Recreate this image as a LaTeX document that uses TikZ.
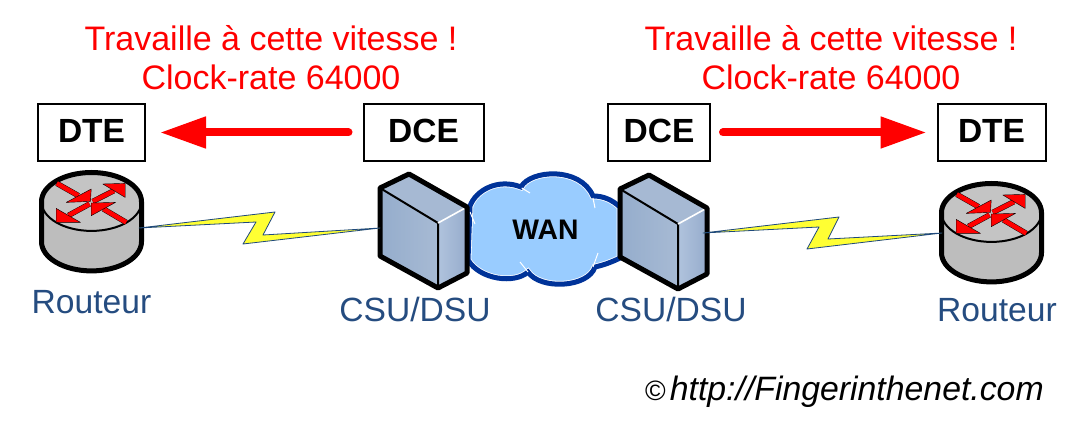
\documentclass[tikz,border=0pt]{standalone}
\usepackage{fontspec}
\setmainfont{Liberation Sans}
\usetikzlibrary{arrows.meta}
\definecolor{labelblue}{HTML}{254C80}
\definecolor{cloudblue}{HTML}{99CCFF}
\definecolor{cloudedge}{HTML}{003399}
\definecolor{boltedge}{HTML}{1F497D}
\definecolor{boltfill}{HTML}{FFFF33}
\definecolor{caseleft}{RGB}{149,173,204}
\definecolor{caseright}{RGB}{167,186,212}
\definecolor{casetop}{RGB}{166,185,211}
\definecolor{sideleft}{RGB}{176,195,221}
\definecolor{sideright}{RGB}{150,172,204}
\tikzset{
	speedlabel/.style={anchor=base,text=red,font=\fontsize{34}{38}\selectfont},
	devlabel/.style={anchor=base,text=labelblue,font=\fontsize{33.6}{38}\selectfont},
	modebox/.style={draw=black,line width=2pt,rectangle,outer sep=0pt,inner sep=0pt,minimum height=57pt,text height=24pt,text depth=4pt,font=\fontsize{33.5}{38}\selectfont\bfseries},
	rateline/.style={red,line width=8pt,line cap=round,-{Triangle[length=46pt,width=30pt]}},
	bolt/.style={draw=boltedge,fill=boltfill,line width=0.8pt,line join=round},
	router/.pic={
		\shade [left color=black!26,middle color=black!17,right color=black!26] (-50,0) -- (-50,-40) arc [start angle=180,end angle=360,x radius=50,y radius=29.2] -- (50,0) -- cycle;
		\fill [black!23] (0,0) ellipse [x radius=50,y radius=29.2];
		\draw [black,line width=2pt] (-50,0) arc [start angle=180,end angle=360,x radius=50,y radius=29.2];
		\draw [black,line width=5pt,line join=round] (-50,-40) -- (-50,0) arc [start angle=180,end angle=0,x radius=50,y radius=29.2] -- (50,-40) arc [start angle=0,end angle=-180,x radius=50,y radius=29.2];
		\foreach \tx/\ty/\mx/\my/\hx/\hy/\ax/\ay/\bx/\by in {
			-34.7/18.3/-13/6/-1/0.3/-0.3/12.7/-25.3/-0.7,
			1.3/0.3/22.5/11/33.7/18.3/11.3/17.7/33.7/4.3,
			-2/-2.3/-23/-13.7/-35.3/-20.7/-35.3/-6.7/-11/-20.7,
			34.7/-20.7/12/-7.3/-0.3/-1.3/24/-0.7/-0.3/-14}{
			\draw [black,line width=0.4pt,double=red,double distance=4.6pt] (\tx,\ty) -- (\mx,\my);
			\draw [fill=red,draw=black,line width=0.4pt,line join=round] (\hx,\hy) -- (\ax,\ay) -- (\bx,\by) -- cycle;
		}
	},
	csubox/.pic={
		\shade [left color=caseleft,right color=caseright] (-29,-14) -- (29,-49) -- (29,-114) -- (-29,-82) -- cycle;
		\fill [casetop] (-29,-14) -- (0,0) -- (58,-33) -- (29,-49) -- cycle;
		\shade [left color=sideleft,right color=sideright] (29,-49) -- (58,-33) -- (58,-99) -- (29,-114) -- cycle;
		\draw [black,line width=2pt] (-29,-14) -- (29,-49) -- (29,-114);
		\draw [white,line width=1.6pt] (29,-49) -- (58,-33);
		\draw [black,line width=5pt,line join=round] (-29,-14) -- (0,0) -- (58,-33) -- (58,-99) -- (29,-114) -- (-29,-82) -- cycle;
	}
}
\newcommand{\wancloud}{(470,-206) .. controls (476,-190) and (498,-178) .. (521,-187) .. controls (530,-170) and (580,-166) .. (593,-196) .. controls (604,-196) and (612,-200) .. (620,-207) -- (620,-258) .. controls (612,-262) and (604,-265) .. (595,-267) .. controls (588,-288) and (540,-290) .. (528,-272) .. controls (515,-284) and (480,-280) .. (468,-260) -- cycle}
\begin{document}
\begin{tikzpicture}[x=1pt,y=1pt]
	\useasboundingbox (0,0) rectangle (1080,-422);
	\fill [white] (0,0) rectangle (1080,-422);
	\node [speedlabel] (speedA) at (271,-51) {Travaille à cette vitesse !};
	\node [speedlabel] (clockA) at (271,-90) {Clock-rate 64000};
	\node [speedlabel] (speedB) at (831,-51) {Travaille à cette vitesse !};
	\node [speedlabel] (clockB) at (831,-90) {Clock-rate 64000};
	\node [modebox,minimum width=107pt] (dteA) at (91.5,-132.5) {DTE};
	\node [modebox,minimum width=120pt] (dceA) at (423.5,-132.5) {DCE};
	\node [modebox,minimum width=102pt] (dceB) at (659,-132.5) {DCE};
	\node [modebox,minimum width=108pt] (dteB) at (991.5,-132.5) {DTE};
	\draw [rateline,shorten <=15pt,shorten >=15pt] (dceA.west) -- (dteA.east);
	\draw [rateline,shorten <=13pt,shorten >=11pt] (dceB.east) -- (dteB.west);
	\fill [cloudblue] \wancloud;
	\draw [white,line width=6.6pt] \wancloud;
	\draw [cloudedge,line width=5pt] \wancloud;
	\draw [white,line width=1pt] (470,-212) -- (475,-224);
	\draw [white,line width=1pt] (521.7,-188) -- (530,-193);
	\draw [white,line width=1pt] (593,-198) -- (595,-208);
	\draw [white,line width=1pt] (598,-253) -- (593,-267);
	\draw [white,line width=1pt] (520,-262) -- (528,-272);
	\node [anchor=base,font=\fontsize{28.3}{32}\selectfont\bfseries] (wan) at (545.5,-240) {WAN};
	\pic at (91.5,-201.7) {router};
	\pic at (991.5,-212.7) {router};
	\pic at (409,-174) {csubox};
	\pic at (649,-175) {csubox};
	\coordinate (portA) at (139,-228);
	\coordinate (portB) at (380,-228);
	\coordinate (portC) at (703,-233);
	\coordinate (portD) at (942,-233);
	\draw [bolt] (portA) -- (275,-212) -- (263,-235) -- (portB) -- (243,-244) -- (256,-222) -- cycle;
	\draw [bolt] (portC) -- (839,-217) -- (828,-239) -- (portD) -- (807,-249) -- (819,-227) -- cycle;
	\node [devlabel] (routerA) at (91.5,-314) {Routeur};
	\node [devlabel] (routerB) at (997,-322) {Routeur};
	\node [devlabel] (csuA) at (415,-322) {CSU/DSU};
	\node [devlabel] (csuB) at (671,-322) {CSU/DSU};
	\node [anchor=base west,inner sep=0pt,font=\fontsize{33.8}{38}\selectfont] (site) at (645,-400) {{\fontsize{28}{32}\selectfont ©}\hspace{4pt}\textit{http://Fingerinthenet.com}};
\end{tikzpicture}
\end{document}
